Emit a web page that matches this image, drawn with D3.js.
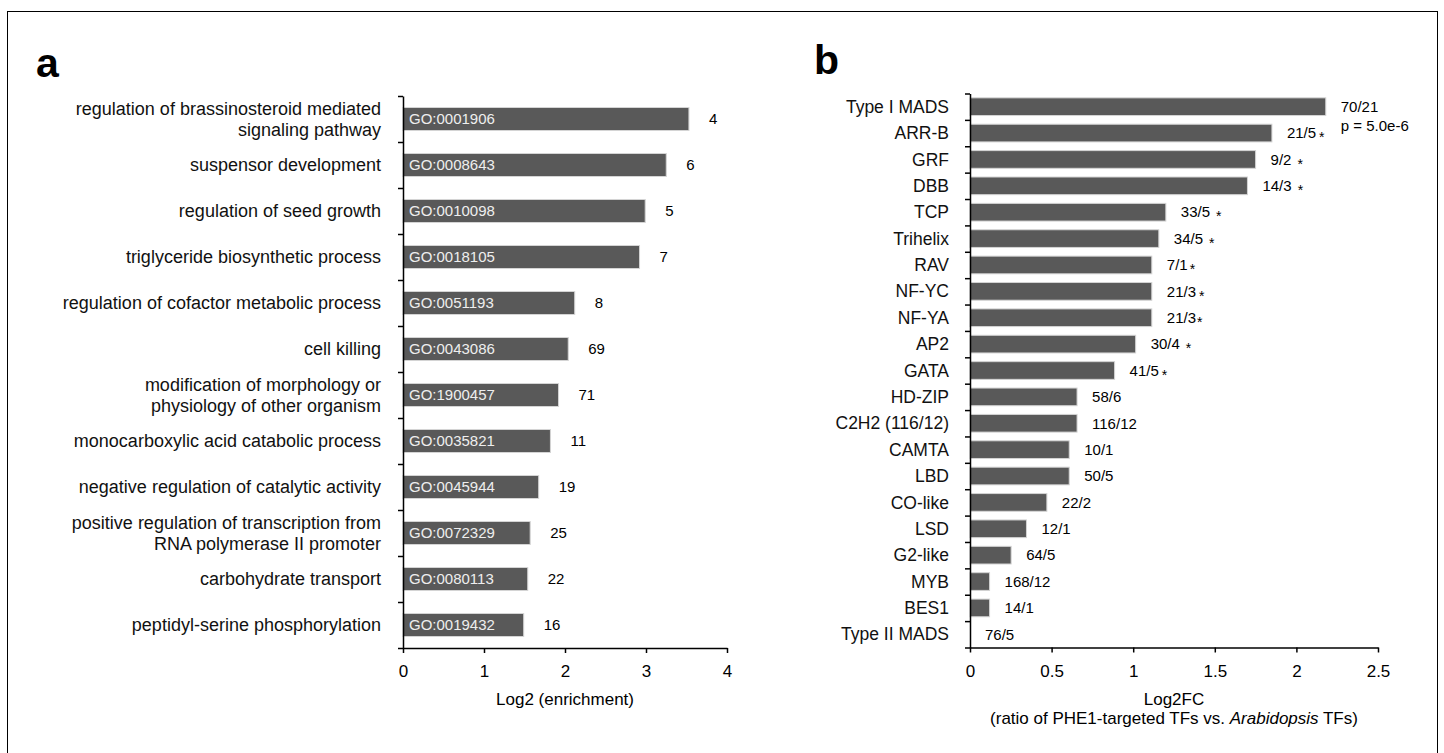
<!DOCTYPE html>
<html>
<head>
<meta charset="utf-8">
<script src="https://cdn.jsdelivr.net/npm/d3@7"></script>
<style>
  body { margin: 0; background: #fff; }
  svg { font-family: "Liberation Sans", Arial, sans-serif; }
  .axis path, .axis line { stroke: #000; stroke-width: 1.5; }
  .axis text { fill: #000; }
</style>
</head>
<body>
<div id="chart"></div>
<script>
// panel a: GO enrichment
var goTerms = [
  ['regulation of brassinosteroid mediated', 'signaling pathway'],
  ['suspensor development'],
  ['regulation of seed growth'],
  ['triglyceride biosynthetic process'],
  ['regulation of cofactor metabolic process'],
  ['cell killing'],
  ['modification of morphology or', 'physiology of other organism'],
  ['monocarboxylic acid catabolic process'],
  ['negative regulation of catalytic activity'],
  ['positive regulation of transcription from', 'RNA polymerase II promoter'],
  ['carbohydrate transport'],
  ['peptidyl-serine phosphorylation']
]
var goIds = ['GO:0001906', 'GO:0008643', 'GO:0010098', 'GO:0018105', 'GO:0051193', 'GO:0043086',
  'GO:1900457', 'GO:0035821', 'GO:0045944', 'GO:0072329', 'GO:0080113', 'GO:0019432']
var goEnrich = [3.53, 3.25, 2.99, 2.92, 2.12, 2.04, 1.92, 1.82, 1.675, 1.57, 1.54, 1.49]
var goCounts = ['4', '6', '5', '7', '8', '69', '71', '11', '19', '25', '22', '16']
var aTicks = [0, 1, 2, 3, 4]

// panel b: TF families
var tfFamilies = ['Type I MADS', 'ARR-B', 'GRF', 'DBB', 'TCP', 'Trihelix', 'RAV', 'NF-YC', 'NF-YA',
  'AP2', 'GATA', 'HD-ZIP', 'C2H2 (116/12)', 'CAMTA', 'LBD', 'CO-like', 'LSD', 'G2-like', 'MYB',
  'BES1', 'Type II MADS']
var tfLog2FC = [2.18, 1.85, 1.75, 1.70, 1.20, 1.157, 1.114, 1.114, 1.114, 1.015, 0.886, 0.656,
  0.656, 0.608, 0.608, 0.471, 0.346, 0.252, 0.12, 0.12, 0]
var tfCounts = ['70/21', '21/5', '9/2', '14/3', '33/5', '34/5', '7/1', '21/3', '21/3', '30/4',
  '41/5', '58/6', '116/12', '10/1', '50/5', '22/2', '12/1', '64/5', '168/12', '14/1', '76/5']
// gap before the significance star (null = no star)
var tfStarGap = [null, 2, 5, 5, 5, 5, 1, 2, 0, 5, 2, null, null, null, null, null, null, null, null, null, null]
var bTicks = [0, 0.5, 1, 1.5, 2, 2.5]

var W = 1444, H = 753
var barColor = '#595959'

var svg = d3.select('#chart').append('svg')
  .attr('width', W)
  .attr('height', H)

// frame
svg.append('rect')
  .attr('x', 7.5).attr('y', 11.5)
  .attr('width', 1430).attr('height', 760)
  .attr('fill', 'none').attr('stroke', '#000').attr('stroke-width', 1)

function panelLetter(txt, x, y) {
  svg.append('text')
    .attr('x', x).attr('y', y)
    .attr('font-size', 41).attr('font-weight', 'bold')
    .text(txt)
}
panelLetter('a', 36, 77)
panelLetter('b', 814, 74)

function catAxis(n, x0, top, bottom) {
  var idx = d3.scaleLinear().domain([0, n]).range([top, bottom])
  svg.append('g')
    .attr('class', 'axis')
    .attr('transform', 'translate(' + x0 + ',0)')
    .call(d3.axisLeft(idx).tickValues(d3.range(n + 1)).tickFormat('').tickSize(5).tickSizeOuter(0))
}

function valueAxis(x, ticks, y0, fmt) {
  var g = svg.append('g')
    .attr('class', 'axis')
    .attr('transform', 'translate(0,' + y0 + ')')
    .call(d3.axisBottom(x).tickValues(ticks).tickFormat(fmt).tickSize(5).tickPadding(12).tickSizeOuter(0))
  g.selectAll('text').attr('font-size', 17).attr('font-family', null)
}

// ---------- panel a ----------
var xa = d3.scaleLinear().domain([0, 4]).range([403, 727])
var ya = d3.scaleBand().domain(d3.range(goIds.length)).range([96, 648])
  .paddingInner(0.5).paddingOuter(0.25)

var ga = svg.append('g')
ga.selectAll('rect.bar')
  .data(goEnrich)
  .enter().append('rect')
  .attr('class', 'bar')
  .attr('x', xa(0))
  .attr('y', function(d, i) { return ya(i) })
  .attr('width', function(d) { return xa(d) - xa(0) })
  .attr('height', ya.bandwidth())
  .attr('fill', barColor)
  .attr('stroke', '#d4d4d4').attr('stroke-width', 1)

ga.selectAll('text.go')
  .data(goIds)
  .enter().append('text')
  .attr('class', 'go')
  .attr('x', xa(0) + 6)
  .attr('y', function(d, i) { return ya(i) + ya.bandwidth() / 2 })
  .attr('dy', '0.35em')
  .attr('font-size', 15)
  .attr('fill', '#eeeeee')
  .text(function(d) { return d })

ga.selectAll('text.count')
  .data(goCounts)
  .enter().append('text')
  .attr('class', 'count')
  .attr('x', function(d, i) { return xa(goEnrich[i]) + 20 })
  .attr('y', function(d, i) { return ya(i) + ya.bandwidth() / 2 })
  .attr('dy', '0.35em')
  .attr('font-size', 15)
  .text(function(d) { return d })

ga.selectAll('text.term')
  .data(goTerms)
  .enter().append('text')
  .attr('class', 'term')
  .attr('text-anchor', 'end')
  .attr('font-size', 18)
  .attr('fill', '#111')
  .each(function(lines, i) {
    var cy = ya(i) + ya.bandwidth() / 2
    var t = d3.select(this)
    lines.forEach(function(line, k) {
      var off = (k - (lines.length - 1) / 2) * 21
      t.append('tspan')
        .attr('x', 381)
        .attr('y', cy + off)
        .attr('dy', '0.35em')
        .text(line)
    })
  })

catAxis(goIds.length, xa(0), 96, 648)
valueAxis(xa, aTicks, 648, d3.format('d'))

svg.append('text')
  .attr('x', (xa(0) + xa(4)) / 2).attr('y', 705)
  .attr('text-anchor', 'middle').attr('font-size', 17)
  .text('Log2 (enrichment)')

// ---------- panel b ----------
var xb = d3.scaleLinear().domain([0, 2.5]).range([970, 1378])
var yb = d3.scaleBand().domain(d3.range(tfFamilies.length)).range([93.5, 647.5])
  .paddingInner(0.33).paddingOuter(0.165)

var gb = svg.append('g')
gb.selectAll('rect.bar')
  .data(tfLog2FC)
  .enter().append('rect')
  .attr('class', 'bar')
  .attr('x', xb(0))
  .attr('y', function(d, i) { return yb(i) })
  .attr('width', function(d) { return xb(d) - xb(0) })
  .attr('height', yb.bandwidth())
  .attr('fill', barColor)
  .attr('stroke', function(d) { return d > 0 ? '#d4d4d4' : 'none' })
  .attr('stroke-width', 1)

gb.selectAll('text.fam')
  .data(tfFamilies)
  .enter().append('text')
  .attr('class', 'fam')
  .attr('x', 949)
  .attr('y', function(d, i) { return yb(i) + yb.bandwidth() / 2 })
  .attr('dy', '0.35em')
  .attr('text-anchor', 'end')
  .attr('font-size', 17.5)
  .attr('fill', '#111')
  .text(function(d) { return d })

gb.selectAll('text.count')
  .data(tfCounts)
  .enter().append('text')
  .attr('class', 'count')
  .attr('x', function(d, i) { return xb(tfLog2FC[i]) + 15 })
  .attr('y', function(d, i) { return yb(i) + yb.bandwidth() / 2 })
  .attr('dy', '0.35em')
  .attr('font-size', 15)
  .each(function(d, i) {
    var t = d3.select(this)
    t.append('tspan').text(d)
    if (tfStarGap[i] !== null) {
      t.append('tspan')
        .attr('dx', tfStarGap[i] + 1)
        .attr('dy', 4)
        .attr('font-size', 14)
        .text('*')
    }
  })

// p-value under the first label
svg.append('text')
  .attr('x', xb(tfLog2FC[0]) + 15)
  .attr('y', yb(0) + yb.bandwidth() / 2 + 19)
  .attr('dy', '0.35em')
  .attr('font-size', 15)
  .text('p = 5.0e-6')

catAxis(tfFamilies.length, xb(0), 93.5, 647.5)
valueAxis(xb, bTicks, 647.5, function(d) { return String(d) })

var tb = svg.append('text')
  .attr('x', (xb(0) + xb(2.5)) / 2)
  .attr('text-anchor', 'middle').attr('font-size', 17)
tb.append('tspan').attr('x', (xb(0) + xb(2.5)) / 2).attr('y', 705).text('Log2FC')
var l2 = tb.append('tspan').attr('x', (xb(0) + xb(2.5)) / 2).attr('y', 724)
l2.append('tspan').text('(ratio of PHE1-targeted TFs vs. ')
l2.append('tspan').attr('font-style', 'italic').text('Arabidopsis')
l2.append('tspan').text(' TFs)')
</script>
</body>
</html>
